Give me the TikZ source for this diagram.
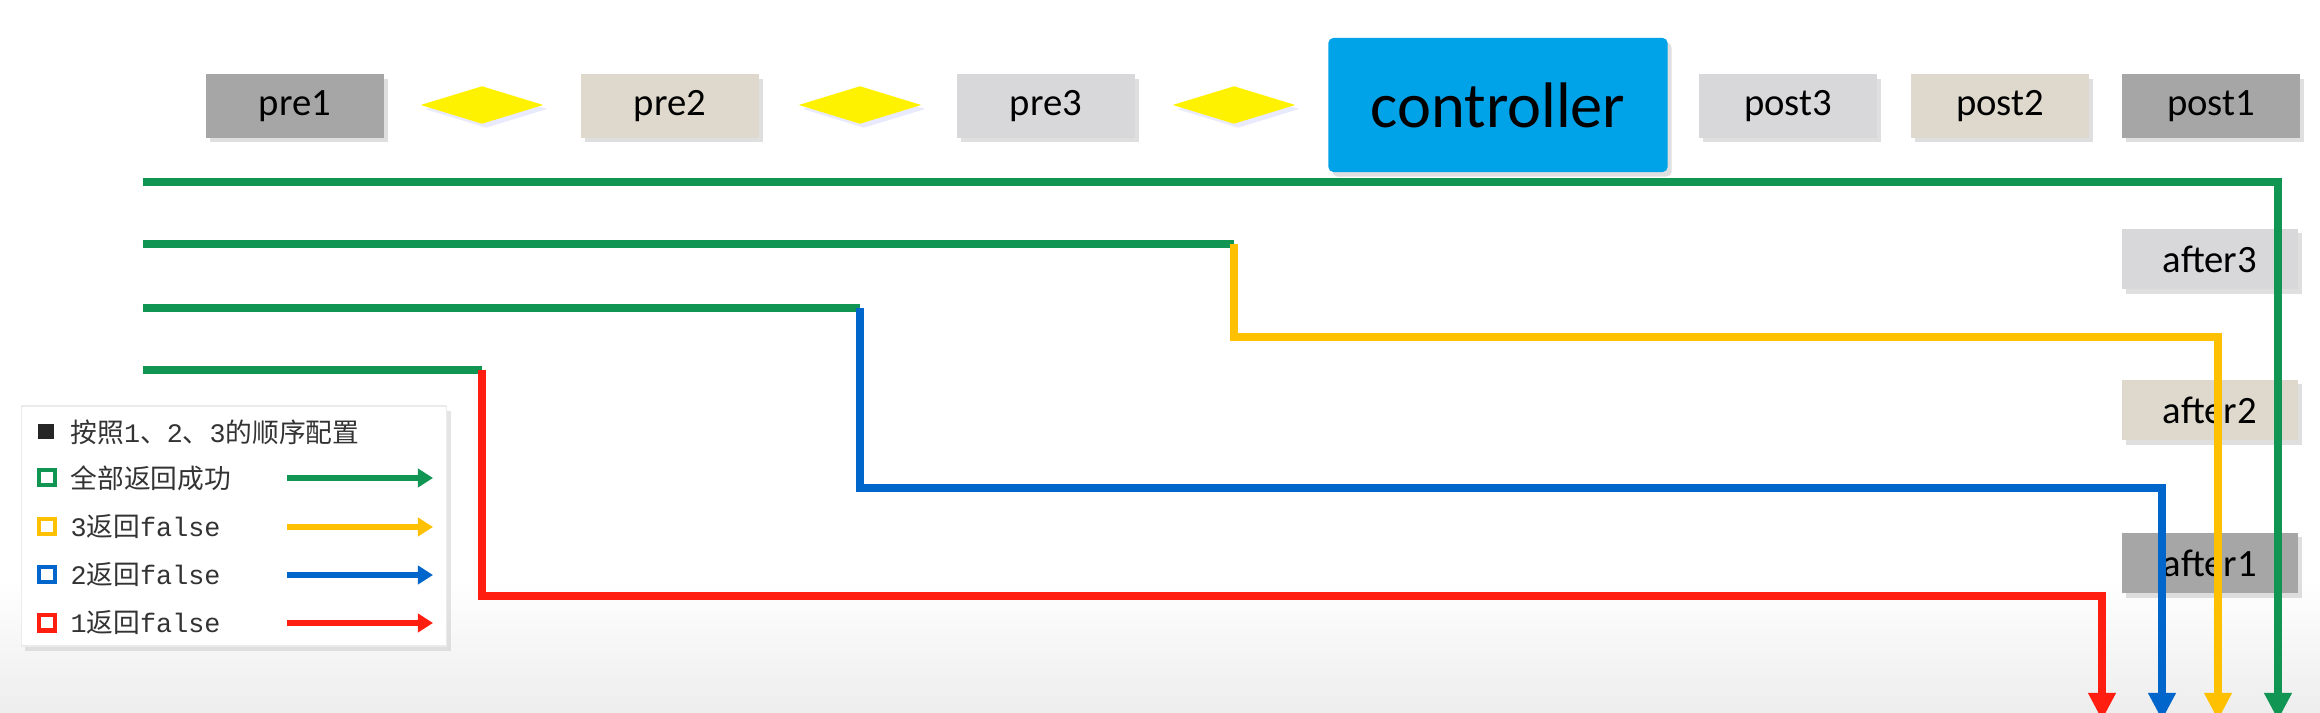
\documentclass[tikz,border=0pt]{standalone}
\usepackage{fontspec}
\setmainfont{Carlito}
\setmonofont{Liberation Mono}
\newfontfamily\cjk{Noto Sans CJK SC}
\usetikzlibrary{arrows.meta,shapes.geometric,shadows}
\definecolor{okgreen}{RGB}{16,150,82}
\definecolor{falseyellow}{RGB}{255,192,0}
\definecolor{falseblue}{RGB}{0,102,204}
\definecolor{falsered}{RGB}{255,30,16}
\definecolor{ctrlblue}{RGB}{0,162,232}
\definecolor{darkbox}{RGB}{166,166,166}
\definecolor{beigebox}{RGB}{222,217,204}
\definecolor{lightbox}{RGB}{216,216,218}

\begin{document}
\begin{tikzpicture}[x=0.01cm,y=-0.01cm,
    box/.style={minimum width=1.77cm,minimum height=0.63cm,inner sep=0pt,
      font=\fontsize{11}{13}\selectfont,
      drop shadow={shadow xshift=0.4mm,shadow yshift=-0.45mm,opacity=0.25}},
    afterbox/.style={box,minimum width=1.76cm,minimum height=0.60cm},
    gem/.style={diamond,fill=yellow,minimum width=1.23cm,minimum height=0.38cm,inner sep=0pt,
      drop shadow={shadow xshift=0.4mm,shadow yshift=-0.4mm,opacity=0.2,fill=blue!40}},
    okline/.style={line width=0.75mm,okgreen},
    flow/.style={line width=0.75mm,-{Triangle[width=2.6mm,length=2.7mm]}},
    legtext/.style={anchor=west,inner sep=0pt,text=black!80,font=\fontsize{7.6}{9}\selectfont\cjk},
    bullet/.style={minimum size=1.5mm,inner sep=0pt,line width=0.4mm,fill=white},
    legarrow/.style={line width=0.6mm,-{Triangle[width=1.8mm,length=1.5mm]}}]
  \useasboundingbox (0,0) rectangle (2320,713);
  \fill[white] (0,0) rectangle (2320,713);
  \shade[top color=white,bottom color=black!7] (0,580) rectangle (2320,713);

  % interceptors and controller
  \node[box,fill=darkbox] (pre1) at (295,106) {pre1};
  \node[gem] (d1) at (482,105) {};
  \node[box,fill=beigebox] (pre2) at (670,106) {pre2};
  \node[gem] (d2) at (860,105) {};
  \node[box,fill=lightbox] (pre3) at (1046,106) {pre3};
  \node[gem] (d3) at (1234,105) {};
  \node[box,fill=ctrlblue,minimum width=3.39cm,minimum height=1.34cm,rounded corners=0.5mm,
    font=\fontsize{18.3}{20}\selectfont] (ctrl) at (1498,105) {controller};
  \node[box,fill=lightbox] (post3) at (1788,106) {post3};
  \node[box,fill=beigebox] (post2) at (2000,106) {post2};
  \node[box,fill=darkbox] (post1) at (2211,106) {post1};

  \node[afterbox,fill=lightbox] (after3) at (2210,259) {after3};
  \node[afterbox,fill=beigebox] (after2) at (2210,410) {after2};
  \node[afterbox,fill=darkbox] (after1) at (2210,563) {after1};

  % flows
  \coordinate (g1) at (143,182);
  \coordinate (g2) at (143,244);
  \coordinate (g3) at (143,308);
  \coordinate (g4) at (143,370);
  \coordinate (y1) at (2218,337);
  \coordinate (y2) at (2218,720);
  \coordinate (b1) at (2162,488);
  \coordinate (b2) at (2162,720);
  \coordinate (r1) at (2102,596);
  \coordinate (r2) at (2102,720);
  \coordinate (e1) at (2278,720);

  \draw[flow,okgreen] (g1) -| (e1);
  \draw[okline] (g2) -- (g2 -| d3);
  \draw[flow,falseyellow] (g2 -| d3) |- (y1) -- (y2);
  \draw[okline] (g3) -- (g3 -| d2);
  \draw[flow,falseblue] (g3 -| d2) |- (b1) -- (b2);
  \draw[okline] (g4) -- (g4 -| d1);
  \draw[flow,falsered] (g4 -| d1) |- (r1) -- (r2);

  % legend
  \node[fill=white,draw=black!8,minimum width=4.25cm,minimum height=2.4cm,
    drop shadow={shadow xshift=0.4mm,shadow yshift=-0.5mm,opacity=0.2}] (legend) at (234,526) {};
  \node[bullet,fill=black!85] (k1) at (46,432) {};
  \node[bullet,draw=okgreen] (k2) at (47,478) {};
  \node[bullet,draw=falseyellow] (k3) at (47,527) {};
  \node[bullet,draw=falseblue] (k4) at (47,575) {};
  \node[bullet,draw=falsered] (k5) at (47,623) {};
  \node[legtext] (l1) at (70,432) {按照\texttt{1}、\texttt{2}、\texttt{3}的顺序配置};
  \node[legtext] (l2) at (70,478) {全部返回成功};
  \node[legtext] (l3) at (70,527) {\texttt{3}返回\texttt{false}};
  \node[legtext] (l4) at (70,575) {\texttt{2}返回\texttt{false}};
  \node[legtext] (l5) at (70,623) {\texttt{1}返回\texttt{false}};
  \coordinate (a2) at (287,478);  \coordinate (a2e) at (433,478);
  \coordinate (a3) at (287,527);  \coordinate (a3e) at (433,527);
  \coordinate (a4) at (287,575);  \coordinate (a4e) at (433,575);
  \coordinate (a5) at (287,623);  \coordinate (a5e) at (433,623);
  \draw[legarrow,okgreen] (a2) -- (a2e);
  \draw[legarrow,falseyellow] (a3) -- (a3e);
  \draw[legarrow,falseblue] (a4) -- (a4e);
  \draw[legarrow,falsered] (a5) -- (a5e);
\end{tikzpicture}
\end{document}
